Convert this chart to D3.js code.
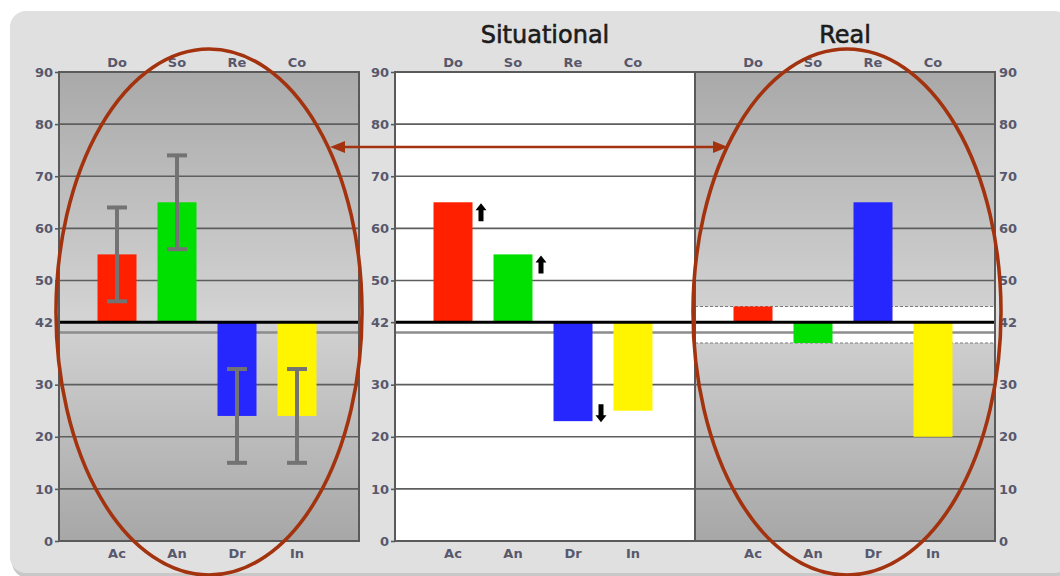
<!DOCTYPE html>
<html>
<head>
<meta charset="utf-8">
<script src="https://cdn.jsdelivr.net/npm/d3@7"></script>
<style>
  body { margin: 0; background: #fff; }
  svg { display: block; font-family: "DejaVu Sans", Verdana, sans-serif; }
</style>
</head>
<body>
<div id="svg-container"></div>
<script>
// categories
var topCats = ["Do", "So", "Re", "Co"];
var bottomCats = ["Ac", "An", "Dr", "In"];
var barColors = ["#ff2000", "#00e000", "#2626ff", "#fff500"];
var baseline = 42;

// norm panel (left): bars + error range
var normValues = [55, 65, 24, 24];
var normLow = [46, 56, 15, 15];
var normHigh = [64, 74, 33, 33];

// situational panel
var situValues = [65, 55, 23, 25];
var situArrows = ["up", "up", "down", null];

// real panel
var realValues = [45, 38, 65, 20];
var realBand = [38, 45];

var yTicks = [0, 10, 20, 30, 42, 50, 60, 70, 80, 90];
var gridValues = [10, 20, 30, 50, 60, 70, 80];

var W = 1060, H = 576;
var svg = d3.select("#svg-container").append("svg")
	.attr("width", W).attr("height", H);

var defs = svg.append("defs");
var grad = defs.append("linearGradient").attr("id", "panelGrad")
	.attr("x1", 0).attr("y1", 0).attr("x2", 0).attr("y2", 1);
grad.append("stop").attr("offset", "0%").attr("stop-color", "#a9a9a9");
grad.append("stop").attr("offset", "52%").attr("stop-color", "#d3d3d3");
grad.append("stop").attr("offset", "100%").attr("stop-color", "#a7a7a7");

// outer card
svg.append("rect")
	.attr("x", 12).attr("y", 14).attr("width", 1060).attr("height", 564)
	.attr("rx", 16).attr("fill", "#c8c8c8");
svg.append("rect")
	.attr("x", 10).attr("y", 11).attr("width", 1060).attr("height", 562)
	.attr("rx", 16).attr("fill", "#e0e0e0");

var y = d3.scaleLinear().domain([0, 90]).range([541, 72]);
var pw = 300;
var x = d3.scalePoint().domain(bottomCats).range([58, 238]);
var barW = 39;

var panels = [
	{ x: 59, fill: "url(#panelGrad)", axis: "left" },
	{ x: 395, fill: "#ffffff", axis: "left" },
	{ x: 695, fill: "url(#panelGrad)", axis: "right" }
];

function styleLabel(sel) {
	return sel.attr("font-family", "DejaVu Sans, Verdana, sans-serif")
		.attr("font-size", 13).attr("font-weight", "bold")
		.attr("fill", "#58586c");
}

function createPanel(p) {
	var g = svg.append("g").attr("transform", "translate(" + p.x + ",0)");
	g.append("rect")
		.attr("x", 0).attr("y", y(90))
		.attr("width", pw).attr("height", y(0) - y(90))
		.attr("fill", p.fill);
	return g;
}

function drawGrid(g) {
	g.selectAll("line.grid")
		.data(gridValues)
		.enter().append("line")
		.attr("class", "grid")
		.attr("x1", 0).attr("x2", pw)
		.attr("y1", function(d){ return y(d); })
		.attr("y2", function(d){ return y(d); })
		.attr("stroke", "#5e5e5e").attr("stroke-width", 1.6);
	g.append("line")
		.attr("x1", 0).attr("x2", pw)
		.attr("y1", y(40)).attr("y2", y(40))
		.attr("stroke", "#8c8c8c").attr("stroke-width", 2.4);
}

function drawBars(g, values) {
	g.selectAll("rect.bar")
		.data(values)
		.enter().append("rect")
		.attr("class", "bar")
		.attr("x", function(d, i){ return x(bottomCats[i]) - barW / 2; })
		.attr("width", barW)
		.attr("y", function(d){ return y(Math.max(d, baseline)); })
		.attr("height", function(d){ return Math.abs(y(d) - y(baseline)); })
		.attr("fill", function(d, i){ return barColors[i]; });
}

function drawFrame(g, p) {
	g.append("line")
		.attr("x1", 0).attr("x2", pw)
		.attr("y1", y(baseline)).attr("y2", y(baseline))
		.attr("stroke", "#000").attr("stroke-width", 3);
	g.append("rect")
		.attr("x", 0).attr("y", y(90))
		.attr("width", pw).attr("height", y(0) - y(90))
		.attr("fill", "none").attr("stroke", "#5a5a5a").attr("stroke-width", 2);

	var axis = (p.axis === "left" ? d3.axisLeft(y) : d3.axisRight(y))
		.tickValues(yTicks).tickSize(p.axis === "left" ? 4 : 0).tickPadding(p.axis === "left" ? 2 : 4);
	var ag = g.append("g")
		.attr("transform", "translate(" + (p.axis === "left" ? 0 : pw) + ",0)")
		.call(axis);
	ag.select(".domain").remove();
	ag.selectAll(".tick line").attr("stroke", "#5a5a5a").attr("stroke-width", 1.6);
	styleLabel(ag.selectAll(".tick text"));

	styleLabel(g.selectAll("text.topcat")
		.data(topCats)
		.enter().append("text")
		.attr("class", "topcat")
		.attr("x", function(d, i){ return x(bottomCats[i]); })
		.attr("y", 67)
		.attr("text-anchor", "middle")
		.text(function(d){ return d; }));
	styleLabel(g.selectAll("text.botcat")
		.data(bottomCats)
		.enter().append("text")
		.attr("class", "botcat")
		.attr("x", function(d){ return x(d); })
		.attr("y", 558)
		.attr("text-anchor", "middle")
		.text(function(d){ return d; }));
}

function writeTitle(p, label) {
	svg.append("text")
		.attr("x", p.x + pw / 2).attr("y", 43)
		.attr("text-anchor", "middle").attr("font-size", 24)
		.attr("fill", "#1c1c1c")
		.attr("stroke", "#1c1c1c").attr("stroke-width", 0.6)
		.text(label);
}

// ---- left (norm) panel
var gL = createPanel(panels[0]);
drawGrid(gL);
drawBars(gL, normValues);
var eb = gL.selectAll("g.err")
	.data(normValues.map(function(d, i){ return { c: bottomCats[i], lo: normLow[i], hi: normHigh[i] }; }))
	.enter().append("g").attr("class", "err")
	.attr("stroke", "#737373").attr("stroke-width", 4);
eb.append("line")
	.attr("x1", function(d){ return x(d.c); }).attr("x2", function(d){ return x(d.c); })
	.attr("y1", function(d){ return y(d.lo); }).attr("y2", function(d){ return y(d.hi); });
eb.append("line")
	.attr("x1", function(d){ return x(d.c) - 10; }).attr("x2", function(d){ return x(d.c) + 10; })
	.attr("y1", function(d){ return y(d.hi); }).attr("y2", function(d){ return y(d.hi); });
eb.append("line")
	.attr("x1", function(d){ return x(d.c) - 10; }).attr("x2", function(d){ return x(d.c) + 10; })
	.attr("y1", function(d){ return y(d.lo); }).attr("y2", function(d){ return y(d.lo); });
drawFrame(gL, panels[0]);

// ---- situational panel
var gS = createPanel(panels[1]);
drawGrid(gS);
drawBars(gS, situValues);
gS.selectAll("path.trend")
	.data(situValues.map(function(d, i){ return { c: bottomCats[i], v: d, dir: situArrows[i] }; })
		.filter(function(d){ return d.dir; }))
	.enter().append("path")
	.attr("class", "trend")
	.attr("fill", "#000")
	.attr("d", function(d){
		var cx = x(d.c) + 28;
		var s = d.dir === "up" ? 1 : -1;
		var t = y(d.v) + 1;
		return "M" + cx + "," + t + "L" + (cx + 5.5) + "," + (t + s * 7) + "L" + (cx + 2.5) + "," + (t + s * 7) +
			"L" + (cx + 2.5) + "," + (t + s * 18) + "L" + (cx - 2.5) + "," + (t + s * 18) +
			"L" + (cx - 2.5) + "," + (t + s * 7) + "L" + (cx - 5.5) + "," + (t + s * 7) + "Z";
	});
drawFrame(gS, panels[1]);
writeTitle(panels[1], "Situational");

// ---- real panel
var gR = createPanel(panels[2]);
gR.append("rect")
	.attr("x", 0).attr("width", pw)
	.attr("y", y(realBand[1])).attr("height", y(realBand[0]) - y(realBand[1]))
	.attr("fill", "#ffffff");
drawGrid(gR);
gR.selectAll("line.band")
	.data(realBand)
	.enter().append("line")
	.attr("class", "band")
	.attr("x1", 0).attr("x2", pw)
	.attr("y1", function(d){ return y(d); }).attr("y2", function(d){ return y(d); })
	.attr("stroke", "#7a7a7a").attr("stroke-width", 1.2).attr("stroke-dasharray", "3,2");
drawBars(gR, realValues);
drawFrame(gR, panels[2]);
writeTitle(panels[2], "Real");

// ---- annotations
var annColor = "#a3330e";
[{ cx: 209, cy: 312, rx: 153, ry: 263 }, { cx: 847, cy: 312, rx: 154, ry: 263 }].forEach(function(e){
	svg.append("ellipse")
		.attr("cx", e.cx).attr("cy", e.cy).attr("rx", e.rx).attr("ry", e.ry)
		.attr("fill", "none").attr("stroke", annColor).attr("stroke-width", 3.6);
});
var ay = 147, ax1 = 330, ax2 = 728;
svg.append("line")
	.attr("x1", ax1 + 12).attr("x2", ax2 - 12).attr("y1", ay).attr("y2", ay)
	.attr("stroke", annColor).attr("stroke-width", 2.4);
svg.append("path")
	.attr("d", "M" + ax1 + "," + ay + "L" + (ax1 + 15) + "," + (ay - 6) + "L" + (ax1 + 15) + "," + (ay + 6) + "Z")
	.attr("fill", annColor);
svg.append("path")
	.attr("d", "M" + ax2 + "," + ay + "L" + (ax2 - 15) + "," + (ay - 6) + "L" + (ax2 - 15) + "," + (ay + 6) + "Z")
	.attr("fill", annColor);
</script>
</body>
</html>
